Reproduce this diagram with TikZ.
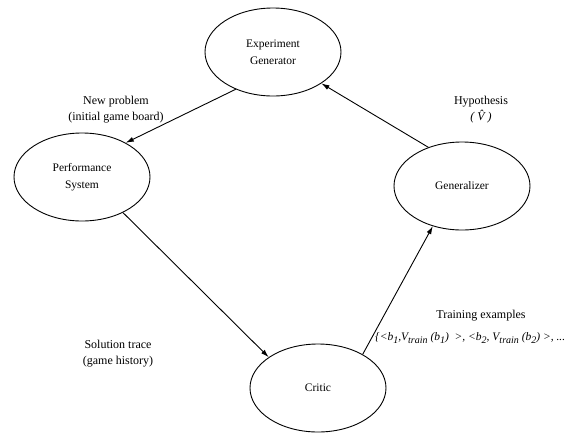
\documentclass[tikz,border=0pt]{standalone}
\usepackage{fontspec}
\setmainfont{Liberation Serif}
\usetikzlibrary{shapes.geometric,arrows.meta}
\newcommand{\lowsub}[1]{\raisebox{-3.5pt}{\fontsize{10}{10}\selectfont #1}}
\tikzset{
  stage/.style={draw, ellipse, line width=0.9pt, minimum width=136pt, minimum height=88pt, inner sep=0pt, align=center, font=\fontsize{11.5}{17}\selectfont},
  flow/.style={line width=0.9pt, -{Latex[length=8pt,width=5pt]}},
  lbl/.style={align=center, font=\fontsize{12}{16}\selectfont}
}
\begin{document}
\begin{tikzpicture}[x=1pt,y=1pt,yscale=-1]
\useasboundingbox (0,0) rectangle (582,432);

%Shape: Ellipse
\node[stage] (expgen) at (273,52) {Experiment\\Generator};
%Shape: Ellipse
\node[stage] (perf) at (82,177) {Performance\\System};
%Shape: Ellipse
\node[stage] (gen) at (462,186) {Generalizer};
%Shape: Ellipse
\node[stage] (critic) at (318,388) {Critic};

%Straight Lines
\draw[flow] (expgen.225) -- (perf.38);
%Straight Lines
\draw[flow] (perf.-41) -- (critic.148);
%Straight Lines
\draw[flow] (critic.37) -- (gen.234);
%Straight Lines
\draw[flow] (gen.131) -- (expgen.-33);

% Text
\node[lbl] (newprob) at (116,110) {New problem\\(initial game board)};
\node[lbl] (hypo) at (481,110) {Hypothesis\\{\itshape ( \^{V} )}};
\node[lbl] (soltrace) at (118,354) {Solution trace\\(game history)};
\node[lbl] (train) at (481,316) {Training examples};
\node[lbl, anchor=west, inner sep=0pt, font=\fontsize{11.5}{14}\selectfont] (trainset) at (375,338) {\itshape \{<b\lowsub{1},V\lowsub{train} (b\lowsub{1})\ \ >, <b\lowsub{2}, V\lowsub{train} (b\lowsub{2}) >, ...};

\end{tikzpicture}
\end{document}
